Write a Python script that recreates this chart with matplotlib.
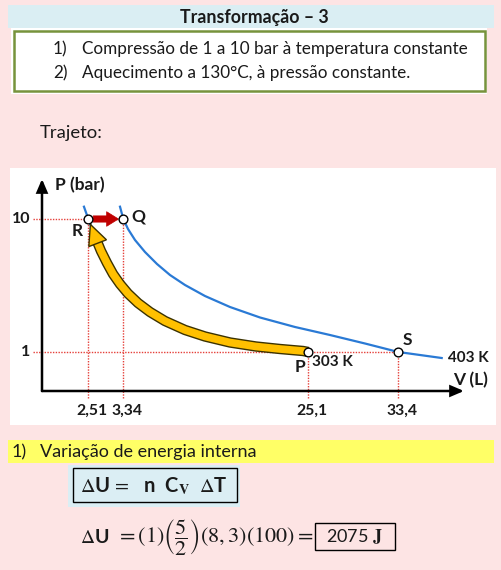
import numpy as np
import matplotlib
matplotlib.use('Agg')
import matplotlib.pyplot as plt
import matplotlib.patheffects as pe
from matplotlib.patches import Rectangle

plt.rcParams['font.family'] = ['Lato', 'DejaVu Sans']
plt.rcParams['mathtext.fontset'] = 'stix'

# states on the P-V diagram
point_names = ['R', 'Q', 'P', 'S']
point_V = [2.51, 3.34, 25.1, 33.4]
point_P = [10, 10, 1, 1]
V_tick_labels = ['2,51', '3,34', '25,1', '33,4']
P_levels = [1, 10]
P_tick_labels = ['1', '10']

# isotherm 403 K
iso403_V = [3.262, 3.34, 3.893, 4.716, 5.892, 7.304, 8.833, 10.597, 12.949, 15.89,
            19.418, 23.535, 27.101, 30.329, 33.4, 37.383]
iso403_P = [10.832, 10.0, 9.323, 8.579, 7.767, 6.955, 6.21, 5.534, 4.789, 4.045,
            3.335, 2.692, 2.15, 1.575, 1.0, 0.846]

# compression path P -> R along the 303 K isotherm (yellow arrow body)
path_V = [25.1, 24.48, 21.77, 18.95, 15.89, 12.95, 10.6, 8.24, 6.48, 5.07, 3.89,
          3.262, 3.096, 2.953, 2.811, 2.693]
path_P = [1.0, 1.068, 1.203, 1.372, 1.643, 2.049, 2.489, 3.098, 3.707, 4.316, 4.959,
          5.601, 6.278, 7.022, 7.834, 8.646]

# isotherm 303 K: visible tip above R, rest runs under the yellow arrow
iso303_V = [2.275, 2.51] + path_V[::-1]
iso303_P = [10.832, 10.0] + path_P[::-1]

W, H = 502, 570
fig = plt.figure(figsize=(W / 100, H / 100), dpi=100)
fig.patch.set_facecolor('#fde4e4')


def fx(x):
    return x / W


def fy(y):
    return 1 - y / H


def box(x0, y0, x1, y1, **kw):
    fig.add_artist(Rectangle((fx(x0), fy(y1)), (x1 - x0) / W, (y1 - y0) / H,
                             transform=fig.transFigure, **kw))


txt_col = '#1a1a1a'

# header
box(8, 5, 494, 28, fc='#daeef3', ec='none')
fig.text(fx(254), fy(17), 'Transformação – 3', ha='center', va='center',
         fontsize=12.8, fontweight='bold', color=txt_col)
box(11, 28, 487, 94, fc='white', ec='none')
box(14, 31, 485, 91, fc='none', ec='#77933c', lw=1.8)
items = ['Compressão de 1 a 10 bar à temperatura constante',
         'Aquecimento a 130°C, à pressão constante.']
for i, (txt, y) in enumerate(zip(items, [49, 73])):
    fig.text(fx(53), fy(y), f'{i + 1})', va='center', fontsize=12.3, color=txt_col)
    fig.text(fx(82), fy(y), txt, va='center', fontsize=12.3, color=txt_col)

fig.text(fx(40), fy(133), 'Trajeto:', va='center', fontsize=13.3, color=txt_col)

# schematic (non-linear) axes: data value -> pixel position
V_knots = [-3, 0, 2.51, 3.34, 25.1, 33.4, 45]
V_px = [-13, 42, 88.3, 123.3, 308.3, 398.3, 524.7]
P_knots = [-1, 0, 1, 10, 20]
P_px = [H - 430, H - 391, H - 352, H - 219, H - 71.2]


def xf(v):
    return np.interp(v, V_knots, V_px)


def xi(x):
    return np.interp(x, V_px, V_knots)


def yf(p):
    return np.interp(p, P_knots, P_px)


def yi(y):
    return np.interp(y, P_px, P_knots)


ax = fig.add_axes([fx(10), fy(425), 486 / W, 257 / H])
ax.set_facecolor('white')
ax.set_xscale('function', functions=(xf, xi))
ax.set_yscale('function', functions=(yf, yi))
for s in ax.spines.values():
    s.set_visible(False)
ax.set_xticks([])
ax.set_yticks([])

x_tip = float(xi(464))
y_tip = float(yi(H - 179))
axis_arrow = dict(arrowstyle='-|>,head_length=0.75,head_width=0.32', mutation_scale=10,
                  color='black', lw=1.8, shrinkA=0, shrinkB=0, joinstyle='miter')
ax.annotate('', xy=(x_tip, 0), xytext=(0, 0), arrowprops=axis_arrow)
ax.annotate('', xy=(0, y_tip), xytext=(0, 0), arrowprops=axis_arrow)

# dotted guides
guide = dict(color='#e5403a', lw=1, linestyle=(0, (1, 1)), zorder=1)
x_left = float(xi(33))
y_low = float(yi(H - 398))
ax.plot([x_left, point_V[1]], [point_P[1]] * 2, **guide)
ax.plot([x_left, point_V[3]], [point_P[3]] * 2, **guide)
for v, p in zip(point_V, point_P):
    ax.plot([v, v], [y_low, p], **guide)

# isotherms
ax.plot(iso403_V, iso403_P, color='#2a7ad5', lw=1.6, zorder=3)
ax.plot(iso303_V, iso303_P, color='#2a7ad5', lw=1.6, zorder=3)

# compression path (yellow arrow)
ax.plot(path_V, path_P, color='#ffc000', lw=5.5, solid_capstyle='butt', zorder=4,
        path_effects=[pe.Stroke(linewidth=7.5, foreground='#3b3200'), pe.Normal()])
ax.annotate('', xy=(point_V[0], point_P[0]), xytext=(path_V[-1], path_P[-1]),
            arrowprops=dict(arrowstyle='-|>,head_length=1.45,head_width=0.68',
                            mutation_scale=10, fc='#ffc000', ec='#3b3200', lw=1,
                            shrinkA=0, shrinkB=3, joinstyle='miter'),
            zorder=5)

# heating R -> Q (red arrow)
ax.annotate('', xy=(point_V[1], point_P[1]), xytext=(point_V[0], point_P[0]),
            arrowprops=dict(arrowstyle='simple,head_length=0.85,head_width=1.05,tail_width=0.45',
                            mutation_scale=10, fc='#c00000', ec='#c00000', lw=0.5,
                            shrinkA=3.5, shrinkB=3.5),
            zorder=5)

ax.plot(point_V, point_P, 'o', ms=6.3, mfc='white', mec='black', mew=1, zorder=6)

# labels
lab = dict(textcoords='offset pixels', fontweight='bold', color=txt_col)
name_off = [(-11, -12), (15, 3), (-8, -15), (9, 12)]
for name, v, p, off in zip(point_names, point_V, point_P, name_off):
    ax.annotate(name, (v, p), xytext=off, ha='center', va='center', fontsize=12.5, **lab)
ax.annotate('303 K', (point_V[2], point_P[2]), xytext=(4, -10), ha='left', va='center',
            fontsize=11, **lab)
ax.annotate('403 K', (iso403_V[-1], iso403_P[-1]), xytext=(6, 0), ha='left', va='center',
            fontsize=11, **lab)
for v, t in zip(point_V, V_tick_labels):
    ax.annotate(t, (v, 0), xytext=(4, -13), ha='center', va='top', fontsize=11.3, **lab)
for p, t in zip(P_levels, P_tick_labels):
    ax.annotate(t, (0, p), xytext=(-12, 0), ha='right', va='center', fontsize=11.5, **lab)
ax.annotate('P (bar)', (0, y_tip), xytext=(13, -6), ha='left', va='center', fontsize=12.5, **lab)
ax.annotate('V (L)', (x_tip, 0), xytext=(-11, 11), ha='left', va='center', fontsize=12.5, **lab)

ax.set_xlim(float(xi(10)), float(xi(496)))
ax.set_ylim(float(yi(H - 425)), float(yi(H - 168)))

# internal energy section
box(8, 440, 494, 463, fc='#ffff66', ec='none')
fig.text(fx(12), fy(452), '1)', va='center', fontsize=13, color=txt_col)
fig.text(fx(40), fy(452), 'Variação de energia interna', va='center', fontsize=13, color=txt_col)

box(68, 465, 240, 507, fc='#dbeef4', ec='none')
box(73, 468, 237, 502, fc='none', ec='black', lw=1)
fig.text(fx(80), fy(486), r'$\Delta$U$\,=\,$  n  C$_{\mathbf{V}}$  $\Delta$T', va='center',
         fontsize=14.5, fontweight='bold', color=txt_col)

fig.text(fx(80), fy(537), r'$\Delta$U', va='center', fontsize=14, fontweight='bold', color=txt_col)
fig.text(fx(116), fy(537), r'$= (1)\left(\dfrac{5}{2}\right)(8,3)(100) =$', va='center',
         fontsize=16, color=txt_col)
box(315, 523, 395, 550, fc='none', ec='black', lw=1)
fig.text(fx(355), fy(537), r'2075 $\mathbf{J}$', ha='center', va='center', fontsize=13,
         color=txt_col)

fig.savefig('out.png', dpi=100, facecolor=fig.get_facecolor())
